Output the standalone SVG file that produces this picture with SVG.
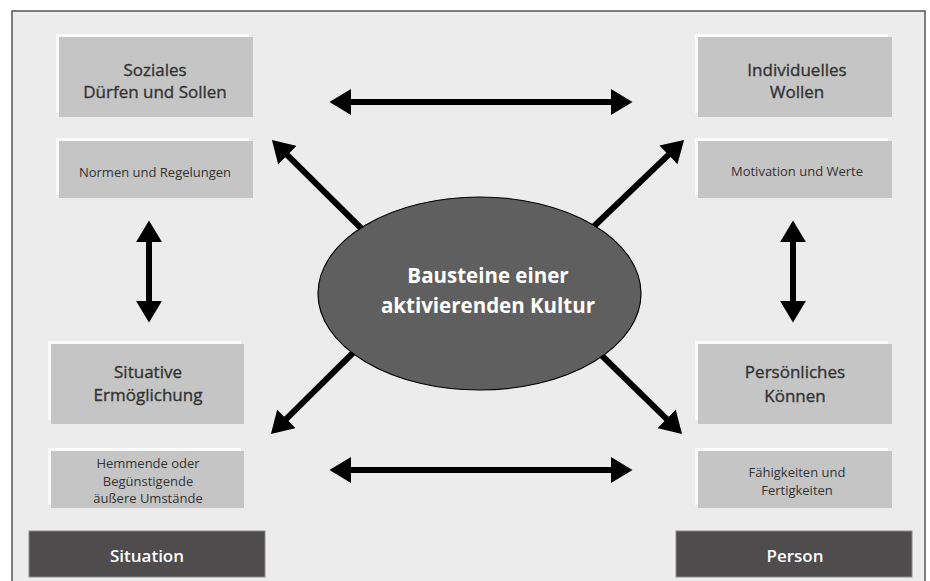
<svg xmlns="http://www.w3.org/2000/svg" width="930" height="581" viewBox="0 0 930 581">
<style>
  .t { font-family: "Open Sans", "DejaVu Sans", sans-serif; fill: #333; text-anchor: middle; }
  .title { font-size: 17px; font-weight: 400; stroke: #333; stroke-width: 0.35; }
  .sub { font-size: 13px; }
  .box { fill: #c5c5c5; }
  .hl { fill: #fafafa; }
  .dark { fill: #4e4c4d; stroke: #8c8c8c; stroke-width: 1; }
  .dt { font-family: "Open Sans", "DejaVu Sans", sans-serif; fill: #fff; font-size: 17px; font-weight: 600; text-anchor: middle; }
  .arr { stroke: #000; stroke-width: 6; fill: none; marker-start: url(#ah); marker-end: url(#ah); }
  .arr1 { stroke: #000; stroke-width: 6; fill: none; marker-end: url(#ah); }
</style>
<defs>
  <marker id="ah" markerUnits="userSpaceOnUse" markerWidth="22" markerHeight="26" refX="2" refY="12" orient="auto-start-reverse" viewBox="0 0 20 24">
    <path d="M0,0 L20,12 L0,24 z" fill="#000"/>
  </marker>
</defs>
<rect x="0" y="0" width="930" height="581" fill="#fff"/>
<rect id="frame" x="12" y="11" width="913" height="580" fill="#ececec" stroke="#555" stroke-width="1.5"/>

<g id="connectors">
  <line class="arr" x1="349" y1="102" x2="613" y2="102"/>
  <line class="arr" x1="349" y1="470" x2="613" y2="470"/>
  <line class="arr" x1="149" y1="240" x2="149" y2="303"/>
  <line class="arr" x1="793" y1="240" x2="793" y2="303"/>
  <line class="arr1" x1="370" y1="237" x2="285.8" y2="153.7"/>
  <line class="arr1" x1="588" y1="232" x2="670" y2="153.4"/>
  <line class="arr1" x1="365" y1="341" x2="284.8" y2="420.3"/>
  <line class="arr1" x1="590" y1="344" x2="668.1" y2="420.4"/>
</g>

<g id="center">
  <ellipse cx="479.5" cy="293.5" rx="161.5" ry="96.5" fill="#5f5f5f" stroke="#000" stroke-width="1.2"/>
  <text x="488" y="283" font-family="'Open Sans', 'DejaVu Sans', sans-serif" font-size="20.5" font-weight="700" fill="#fff" text-anchor="middle">Bausteine einer</text>
  <text x="488" y="313" font-family="'Open Sans', 'DejaVu Sans', sans-serif" font-size="20.5" font-weight="700" fill="#fff" text-anchor="middle">aktivierenden Kultur</text>
</g>

<g id="soziales">
  <rect class="hl" x="56" y="34" width="193" height="79"/>
  <rect class="box" x="59" y="37" width="194" height="80"/>
  <text class="t title" x="155" y="76">Soziales</text>
  <text class="t title" x="155" y="98">Dürfen und Sollen</text>
</g>
<g id="normen">
  <rect class="hl" x="56" y="138" width="193" height="57"/>
  <rect class="box" x="59" y="141" width="194" height="57"/>
  <text class="t sub" x="155" y="177">Normen und Regelungen</text>
</g>

<g id="individuelles">
  <rect class="hl" x="695" y="34" width="193" height="79"/>
  <rect class="box" x="698" y="37" width="194" height="80"/>
  <text class="t title" x="797" y="76">Individuelles</text>
  <text class="t title" x="797" y="98">Wollen</text>
</g>
<g id="motivation">
  <rect class="hl" x="695" y="138" width="193" height="57"/>
  <rect class="box" x="698" y="141" width="194" height="57"/>
  <text class="t sub" x="797" y="176">Motivation und Werte</text>
</g>

<g id="situative">
  <rect class="hl" x="48" y="341" width="193" height="79"/>
  <rect class="box" x="51" y="344" width="193" height="80"/>
  <text class="t title" x="148" y="378">Situative</text>
  <text class="t title" x="148" y="401">Ermöglichung</text>
</g>
<g id="hemmende">
  <rect class="hl" x="48" y="448" width="193" height="57"/>
  <rect class="box" x="51" y="451" width="193" height="57"/>
  <text class="t sub" x="148" y="468">Hemmende oder</text>
  <text class="t sub" x="148" y="486">Begünstigende</text>
  <text class="t sub" x="148" y="503">äußere Umstände</text>
</g>

<g id="persoenliches">
  <rect class="hl" x="695" y="341" width="193" height="79"/>
  <rect class="box" x="698" y="344" width="194" height="80"/>
  <text class="t title" x="795" y="378">Persönliches</text>
  <text class="t title" x="795" y="402">Können</text>
</g>
<g id="faehigkeiten">
  <rect class="hl" x="695" y="448" width="193" height="57"/>
  <rect class="box" x="698" y="451" width="194" height="57"/>
  <text class="t sub" x="797" y="477">Fähigkeiten und</text>
  <text class="t sub" x="797" y="495">Fertigkeiten</text>
</g>

<g id="situation">
  <rect class="dark" x="29" y="531" width="236" height="46"/>
  <text class="dt" x="147" y="562">Situation</text>
</g>
<g id="person">
  <rect class="dark" x="676" y="531" width="236" height="46"/>
  <text class="dt" x="795" y="562">Person</text>
</g>
</svg>
